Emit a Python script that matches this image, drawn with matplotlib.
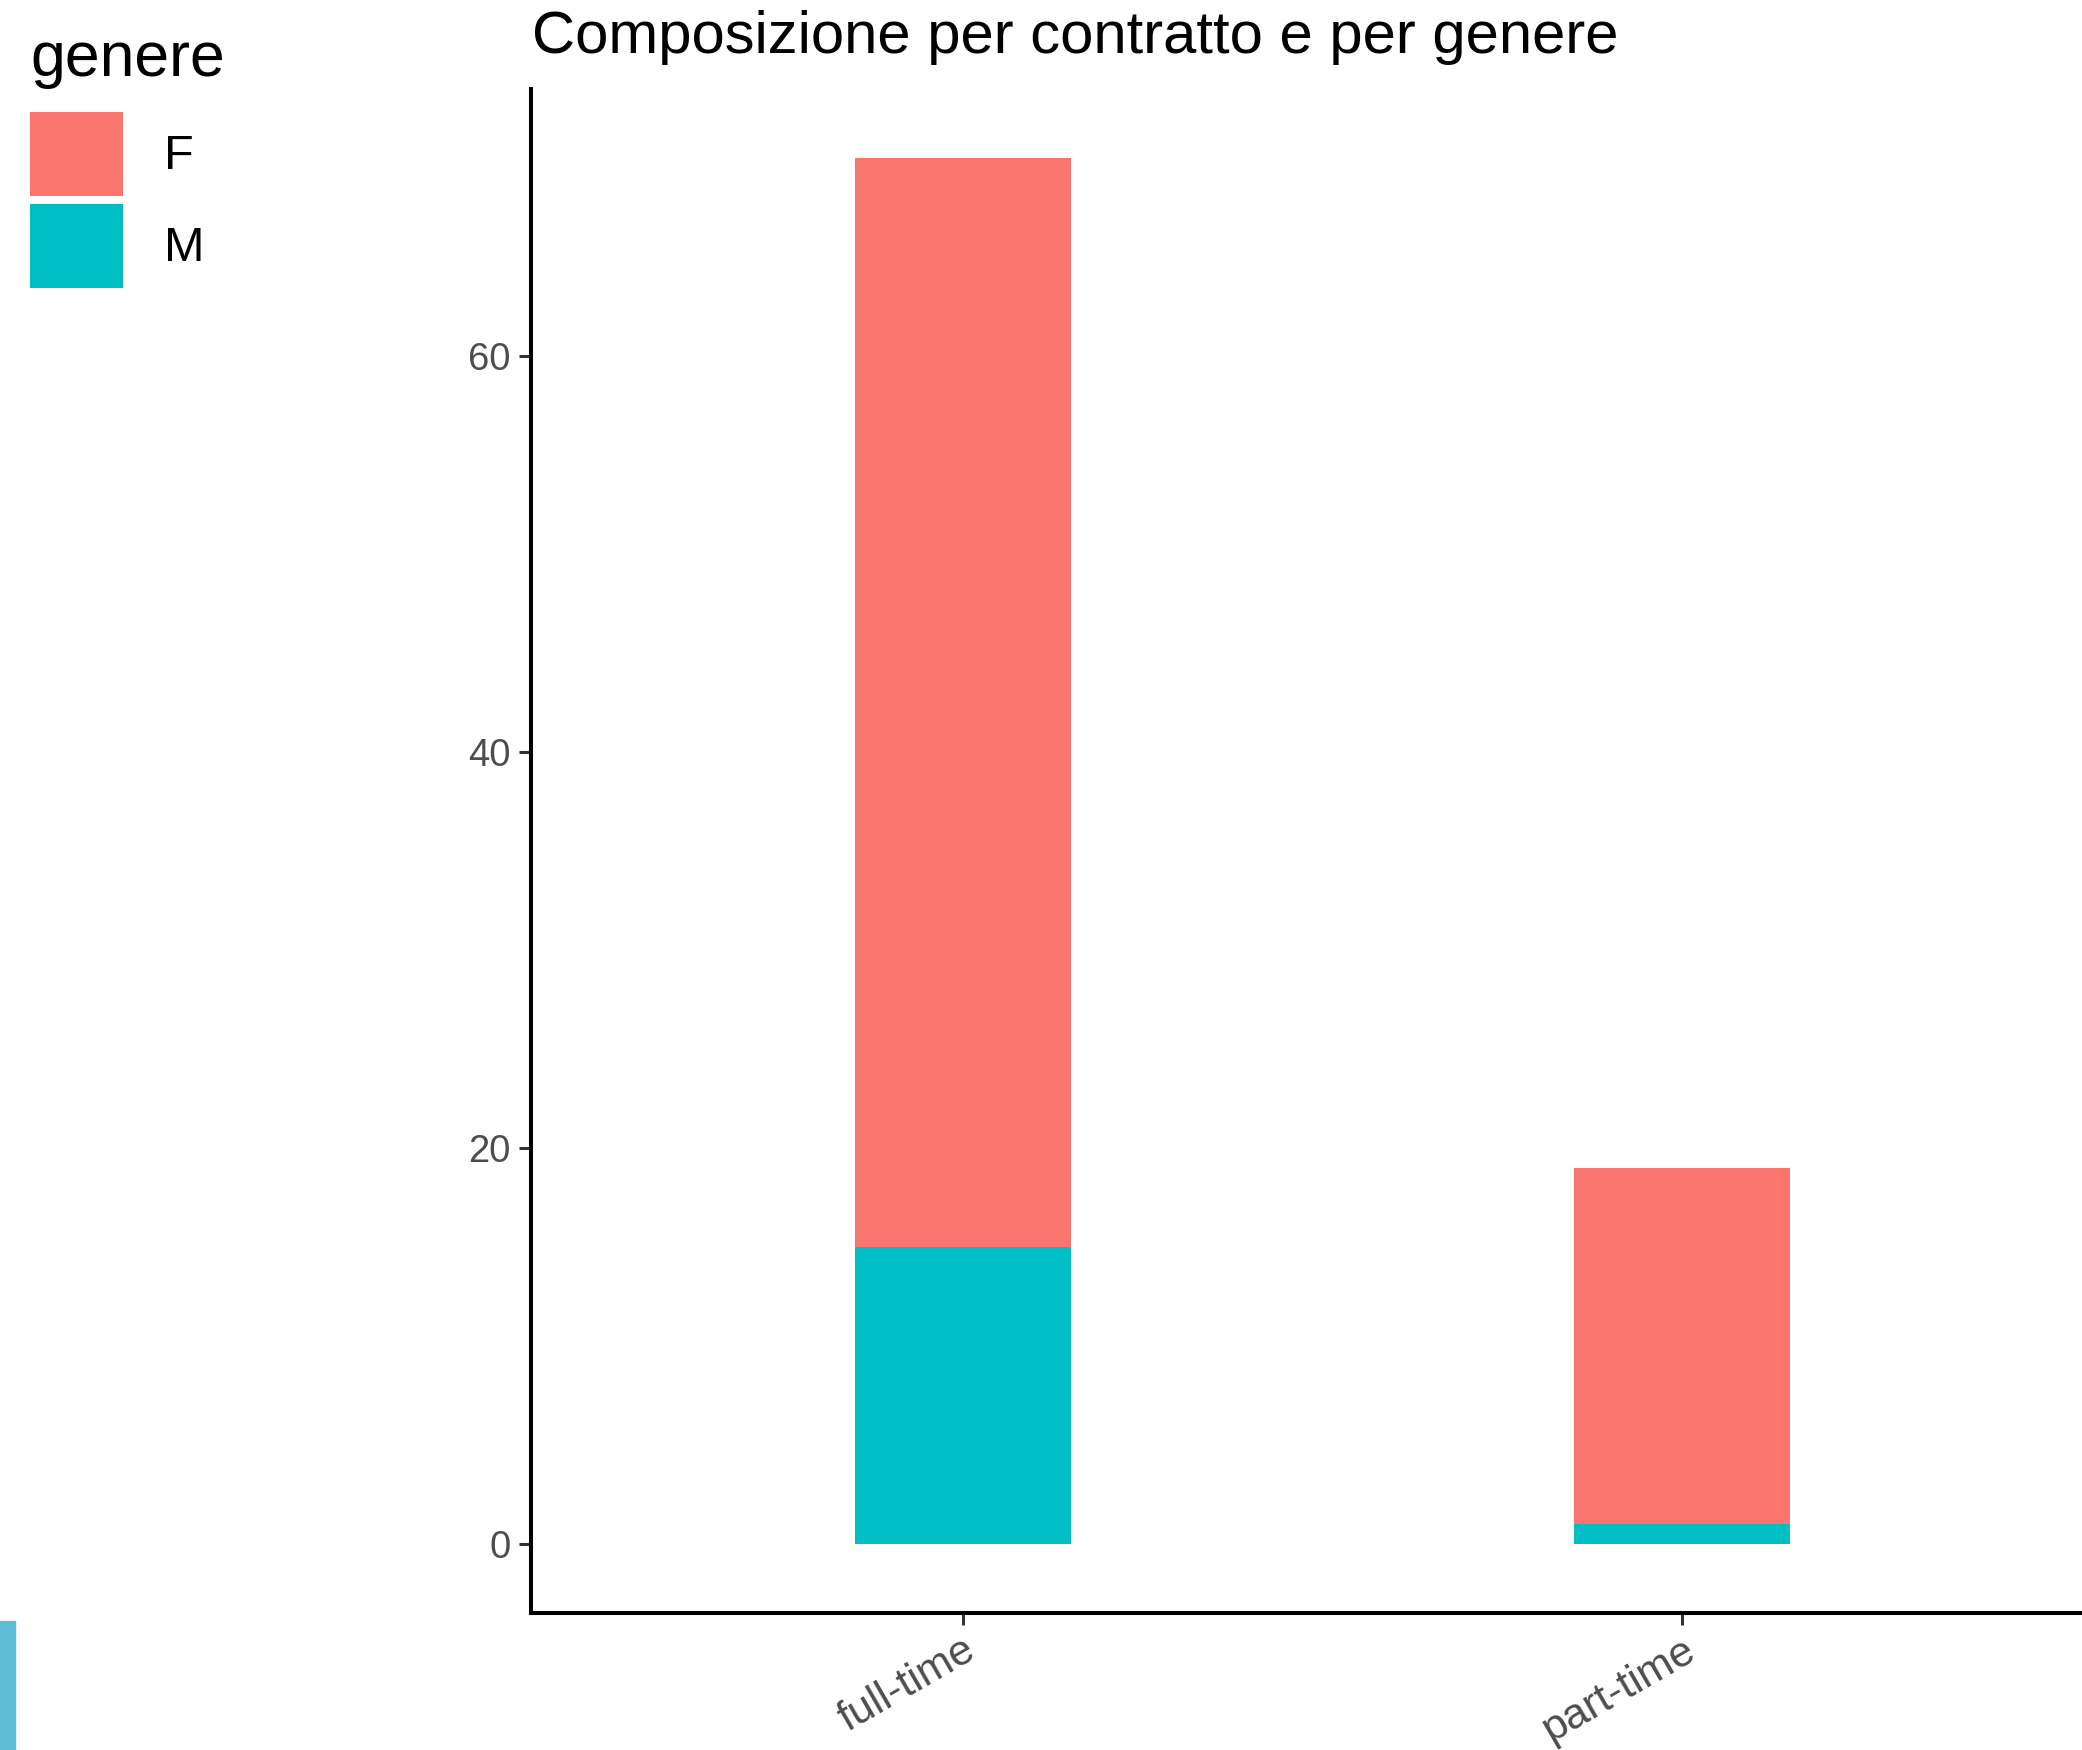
#!/usr/bin/env python3
"""
Composizione per contratto e per genere - barre impilate
"""
import numpy as np
import matplotlib
matplotlib.use('Agg')
import matplotlib.pyplot as plt
from matplotlib.patches import Patch, Rectangle

plt.rcParams['font.family'] = ['Liberation Sans', 'DejaVu Sans']

contratti = ['full-time', 'part-time']
generi = ['F', 'M']
valori_F = [55, 18]
valori_M = [15, 1]
colori = {'F': '#F8766D', 'M': '#00BFC4'}
y_ticks = [0, 20, 40, 60]


def plot_stack():
    fig = plt.figure(figsize=(20.82, 17.5), dpi=100)
    # l'asse x prosegue oltre il bordo destro (immagine ritagliata)
    ax = fig.add_axes([0.2550, 0.0783, 0.7604, 0.8708])
    x = np.arange(len(contratti))
    ax.bar(x, valori_M, width=0.3, color=colori['M'], linewidth=0)
    ax.bar(x, valori_F, width=0.3, bottom=valori_M, color=colori['F'], linewidth=0)

    ax.set_xlim(-0.6, len(contratti) - 1 + 0.6)
    ax.set_ylim(-3.5, 73.5)
    ax.set_yticks(y_ticks)
    ax.set_yticklabels([str(v) for v in y_ticks])
    ax.set_xticks(x)
    ax.set_xticklabels(contratti, rotation=30, ha='right', va='top',
                       rotation_mode='anchor')

    for s in ['top', 'right']:
        ax.spines[s].set_visible(False)
    for s in ['left', 'bottom']:
        ax.spines[s].set_linewidth(2.9)
        ax.spines[s].set_color('black')
    ax.tick_params(axis='both', length=8.5, width=2.2, color='#333333',
                   labelsize=27.5, labelcolor='#4D4D4D', pad=6)
    ax.tick_params(axis='x', labelsize=31, pad=4)
    ax.patch.set_alpha(0)

    fig.text(0.2555, 0.9697, 'Composizione per contratto e per genere',
             fontsize=43, ha='left', va='baseline')

    handles = [Patch(facecolor=colori[g], edgecolor='none') for g in generi]
    leg = fig.legend(handles, generi, loc='upper left',
                     bbox_to_anchor=(0.0145, 0.983), frameon=False,
                     fontsize=35, title='genere', title_fontsize=45,
                     handlelength=1.91, handleheight=2.28,
                     labelspacing=0.15, handletextpad=0.84,
                     borderpad=0, borderaxespad=0)
    leg._legend_box.align = 'left'
    leg._legend_box.sep = 17

    # striscia decorativa in basso a sinistra
    fig.patches.append(Rectangle((0, 0), 15 / 2082, 129 / 1750,
                                 transform=fig.transFigure,
                                 color='#5BBCD6', zorder=0))

    plt.savefig('out.png', dpi=100)


if __name__ == "__main__":
    plot_stack()
